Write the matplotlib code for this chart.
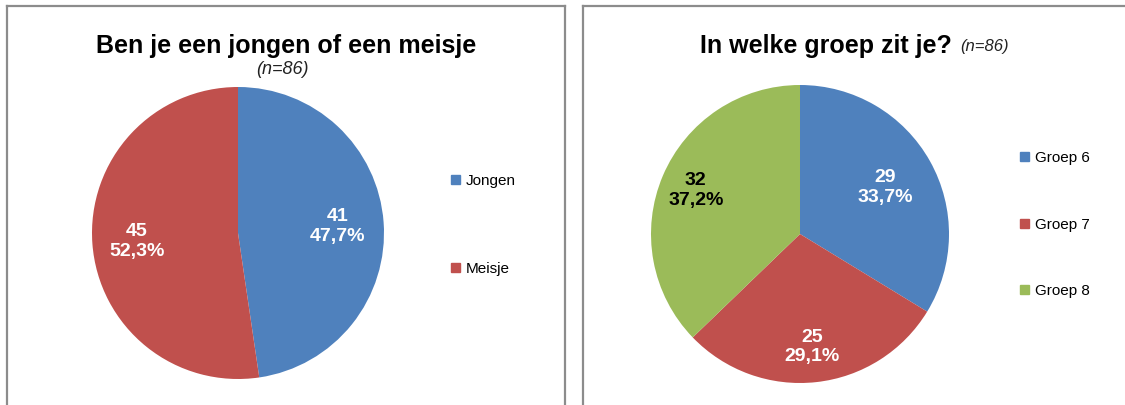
import matplotlib
matplotlib.use("Agg")
import matplotlib.pyplot as plt
from matplotlib.lines import Line2D
import numpy as np

plt.rcParams['font.family'] = ['Liberation Sans', 'DejaVu Sans']

# Data
gender_labels = ["Jongen", "Meisje"]
gender_counts = [41, 45]
group_labels = ["Groep 6", "Groep 7", "Groep 8"]
group_counts = [29, 25, 32]
n_total = 86

BLUE = "#4F81BD"
RED = "#C0504D"
GREEN = "#9BBB59"

W, H = 1125, 406
fig = plt.figure(figsize=(W / 100, H / 100), dpi=100)
fig.patch.set_facecolor("white")


def fx(px):
    return px / W


def fy(py):
    return 1 - py / H


def frame(x0, y0, x1, y1):
    c = "#8c8c8c"
    lw = 1.6
    for xs, ys in [((x0, x1), (y0, y0)), ((x0, x0), (y0, y1)), ((x1, x1), (y0, y1))]:
        fig.add_artist(Line2D([fx(xs[0]), fx(xs[1])], [fy(ys[0]), fy(ys[1])],
                              color=c, lw=lw, transform=fig.transFigure))


frame(7, 7, 565, 410)
frame(583, 7, 1130, 410)


def pie_axes(cx, cy, r):
    ax = fig.add_axes([fx(cx - r), fy(cy + r), (2 * r) / W, (2 * r) / H])
    return ax


def fmt(counts):
    total = sum(counts)
    out = []
    for c in counts:
        pct = 100.0 * c / total
        out.append(f"{c}\n{pct:.1f}%".replace(".", ","))
    return out


def draw_pie(ax, counts, colors, dists, txtcolors):
    wedges, _ = ax.pie(counts, colors=colors, startangle=90, counterclock=False,
                       radius=1.0, wedgeprops=dict(linewidth=0))
    ax.set_xlim(-1, 1)
    ax.set_ylim(-1, 1)
    ax.set_aspect("equal")
    ax.axis("off")
    for w, lab, d, tc in zip(wedges, fmt(counts), dists, txtcolors):
        ang = np.deg2rad((w.theta1 + w.theta2) / 2)
        ax.text(d * np.cos(ang), d * np.sin(ang), lab, ha="center", va="center",
                fontsize=14, fontweight="bold", color=tc, linespacing=1.2)
    return wedges


# Left pie
ax1 = pie_axes(238, 234, 146)
draw_pie(ax1, gender_counts, [BLUE, RED], [0.686, 0.695], ["white", "white"])

fig.text(fx(286), fy(46), "Ben je een jongen of een meisje", ha="center", va="center",
         fontsize=18, fontweight="bold")
fig.text(fx(282), fy(69), f"(n={n_total})", ha="center", va="center",
         fontsize=13, fontstyle="italic", color="#222222")

# Right pie
ax2 = pie_axes(800, 235, 149)
draw_pie(ax2, group_counts, [BLUE, RED, GREEN], [0.655, 0.755, 0.76],
         ["white", "white", "black"])

fig.text(fx(700), fy(46), "In welke groep zit je?", ha="left", va="center",
         fontsize=18, fontweight="bold")
fig.text(fx(960), fy(47), f"(n={n_total})", ha="left", va="center",
         fontsize=12, fontstyle="italic", color="#222222")


# Legends
def legend(x, ys, labels, colors):
    for y, lab, c in zip(ys, labels, colors):
        fig.patches.append(plt.Rectangle((fx(x), fy(y + 4)), 9 / W, 9 / H, color=c,
                                         transform=fig.transFigure, figure=fig))
        fig.text(fx(x + 15), fy(y), lab, ha="left", va="center", fontsize=11)


legend(451, [181, 269], gender_labels, [BLUE, RED])
legend(1020, [158, 225, 291], group_labels, [BLUE, RED, GREEN])

fig.savefig("out.png", dpi=100)
